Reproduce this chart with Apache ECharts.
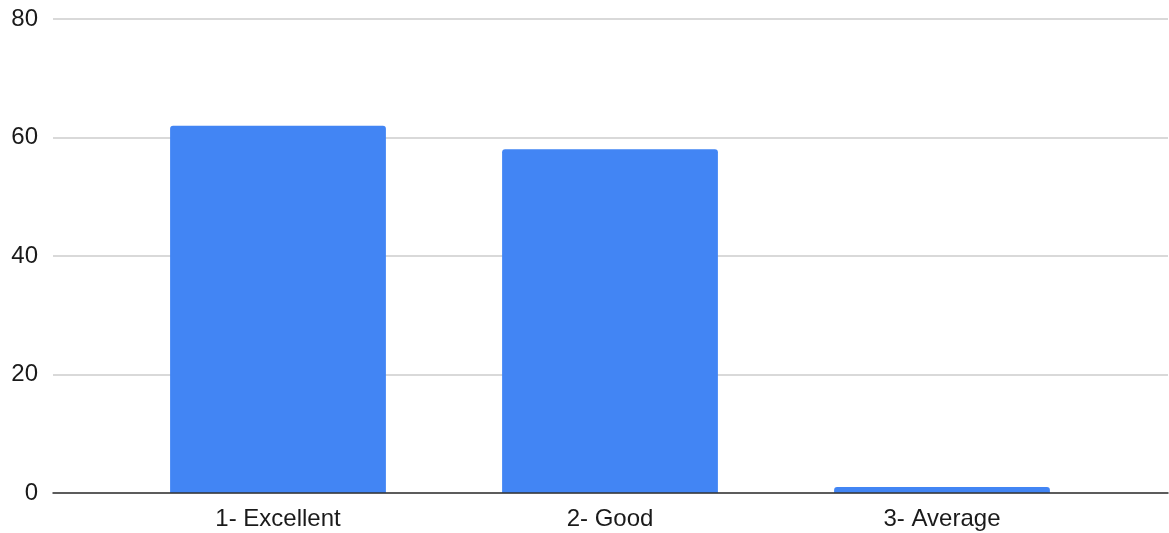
<!DOCTYPE html>
<html lang="en">
<head>
    <meta charset="UTF-8">
    <title>Ratings</title>
    <script type="text/javascript" src="https://cdn.jsdelivr.net/npm/echarts@6/dist/echarts.min.js"></script>
    <style>
        *{
            margin:0;
            padding:0;
        }
        #main {
            width:1169px;
            height:533px;
            background:#fff;
        }
    </style>
</head>
<body>
<div id="main"></div>
<script type="text/javascript">
    // data
    var categories = ['1- Excellent', '2- Good', '3- Average'];
    var counts = [62, 58, 1];
    var yTicks = [0, 20, 40, 60, 80];

    var myChart = echarts.init(document.getElementById('main'));
    var font = 'Liberation Sans, Arial, sans-serif';

    var option = {
        animation: false,
        // grid 0: full-width gridlines + baseline, grid 1: the narrower band where the bars sit
        grid: [
            { left: 53, right: 1, top: 19, bottom: 40, containLabel: false },
            { left: 112, right: 61, top: 19, bottom: 40, containLabel: false }
        ],
        xAxis: [
            {
                gridIndex: 0,
                type: 'category',
                data: [''],
                axisTick: { show: false },
                axisLabel: { show: false },
                axisLine: { lineStyle: { color: '#333', width: 1.5 } },
                z: 5
            },
            {
                gridIndex: 1,
                type: 'category',
                data: categories,
                axisTick: { show: false },
                axisLine: { show: false },
                axisLabel: {
                    color: '#1a1a1a',
                    fontSize: 24,
                    fontFamily: font,
                    margin: 14
                }
            }
        ],
        yAxis: [
            {
                gridIndex: 0,
                type: 'value',
                min: yTicks[0],
                max: yTicks[yTicks.length - 1],
                interval: 20,
                axisLine: { show: false },
                axisTick: { show: false },
                axisLabel: {
                    color: '#1a1a1a',
                    fontSize: 24,
                    fontFamily: font,
                    margin: 15,
                    padding: [3, 0, 0, 0]
                },
                splitLine: { lineStyle: { color: '#ccc', width: 1.5 } }
            },
            {
                gridIndex: 1,
                type: 'value',
                min: yTicks[0],
                max: yTicks[yTicks.length - 1],
                interval: 20,
                show: false,
                splitLine: { show: false }
            }
        ],
        series: [
            {
                type: 'bar',
                xAxisIndex: 1,
                yAxisIndex: 1,
                data: counts,
                barWidth: '65%',
                itemStyle: {
                    color: '#4285f4',
                    borderRadius: [3, 3, 0, 0]
                }
            }
        ]
    };

    myChart.setOption(option);
</script>
</body>
</html>
